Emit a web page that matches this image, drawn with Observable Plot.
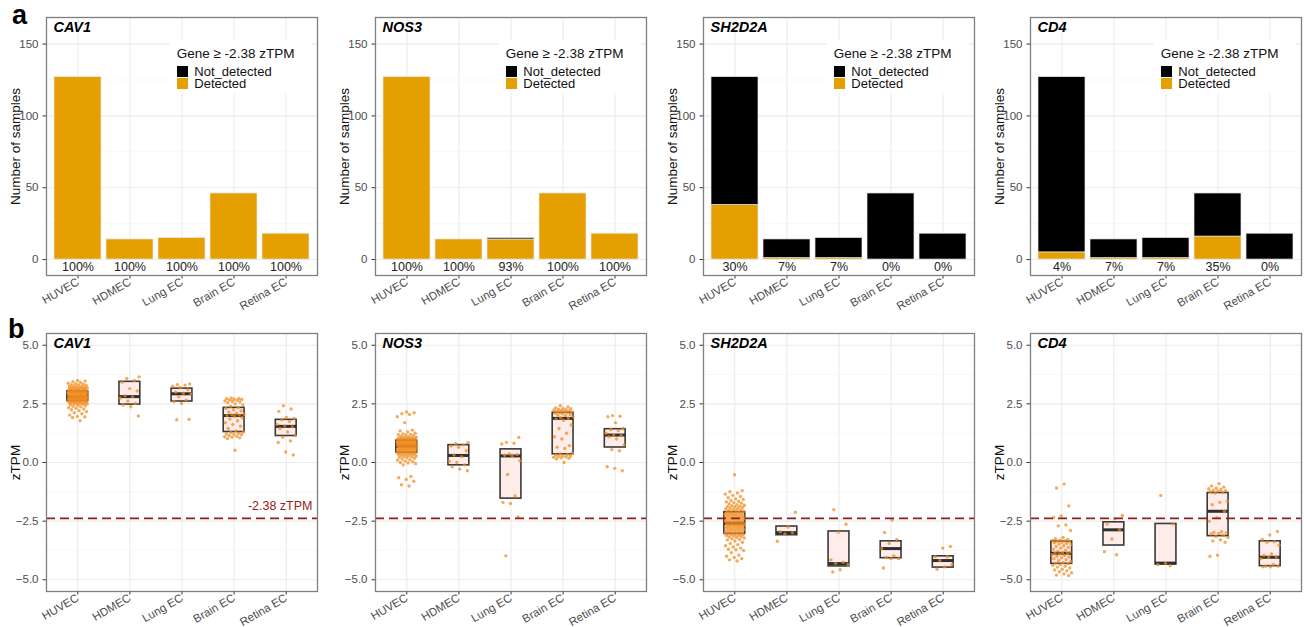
<!DOCTYPE html>
<html>
<head>
<meta charset="utf-8">
<script src="https://cdn.jsdelivr.net/npm/d3@7"></script>
<script src="https://cdn.jsdelivr.net/npm/@observablehq/plot@0.6"></script>
<style>
  html, body { margin: 0; padding: 0; background: #fff; overflow: hidden; }
  #wrap { position: relative; width: 1304px; height: 627px; font-family: "Liberation Sans", Arial, sans-serif; }
  #wrap svg { position: absolute; overflow: visible; }
  .abs { position: absolute; white-space: nowrap; }
  .lg { font-size: 13px; line-height: 12px; color: #111; }
  .lgt { font-size: 13.5px; line-height: 12px; color: #111; }
  .key { position: absolute; width: 11px; height: 11px; }
  .tag { font-weight: bold; font-size: 27px; line-height: 27px; color: #000; }
</style>
</head>
<body>
<div id="wrap"></div>
<script>
// ---------------- data ----------------
const cats = ["HUVEC", "HDMEC", "Lung EC", "Brain EC", "Retina EC"];
const genes = ["CAV1", "NOS3", "SH2D2A", "CD4"];
const totals = [127, 14, 15, 46, 18];
const detected_CAV1 = [127, 14, 15, 46, 18];
const detected_NOS3 = [127, 14, 14, 46, 18];
const detected_SH2D2A = [38, 1, 1, 0, 0];
const detected_CD4 = [5, 1, 1, 16, 0];
const statusLabels = ["Not_detected", "Detected"];
const countTicks = [0, 50, 100, 150];
const countMinor = [25, 75, 125];
const zTicks = [-5, -2.5, 0, 2.5, 5];
const zMinor = [-3.75, -1.25, 1.25, 3.75];
const threshold = -2.38;
const thresholdLabel = "-2.38 zTPM";
const legendTitle = "Gene \u2265 -2.38 zTPM";

// box statistics (Q1, median, Q3) per cell type
const q1_CAV1 = [2.62, 2.47, 2.60, 1.30, 1.13];
const med_CAV1 = [2.80, 2.81, 2.93, 2.00, 1.54];
const q3_CAV1 = [3.03, 3.44, 3.15, 2.33, 1.82];
const q1_NOS3 = [0.42, -0.12, -1.54, 0.35, 0.64];
const med_NOS3 = [0.70, 0.30, 0.28, 1.88, 1.17];
const q3_NOS3 = [0.93, 0.74, 0.56, 2.12, 1.42];
const q1_SH2D2A = [-3.04, -3.10, -4.43, -4.08, -4.48];
const med_SH2D2A = [-2.59, -2.99, -4.31, -3.67, -4.18];
const q3_SH2D2A = [-2.12, -2.73, -2.94, -3.36, -4.00];
const q1_CD4 = [-4.32, -3.54, -4.35, -3.14, -4.42];
const med_CD4 = [-3.87, -2.87, -4.29, -2.08, -4.04];
const q3_CD4 = [-3.37, -2.55, -2.62, -1.30, -3.36];

// sample zTPM values
const CAV1_HUVEC = [1.78,1.92,1.94,1.96,2.02,2.08,2.12,2.17,2.21,2.25,2.28,2.31,2.34,2.37,2.40,2.42,2.44,2.46,2.48,2.50,2.51,2.52,2.53,2.54,2.55,2.56,2.57,2.58,2.59,2.60,2.61,
 2.62,2.63,2.63,2.64,2.65,2.65,2.66,2.67,2.68,2.68,2.69,2.70,2.70,2.71,2.72,2.72,2.73,2.74,2.74,2.75,2.76,2.76,2.77,2.77,2.78,2.78,2.79,2.79,2.79,2.80,2.80,2.80,
 2.81,2.81,2.82,2.83,2.84,2.85,2.86,2.87,2.88,2.89,2.90,2.91,2.92,2.92,2.93,2.94,2.95,2.95,2.96,2.97,2.97,2.98,2.99,2.99,3.00,3.00,3.01,3.01,3.02,3.02,3.03,3.03,
 3.04,3.05,3.06,3.07,3.08,3.09,3.10,3.11,3.12,3.13,3.14,3.15,3.16,3.17,3.18,3.19,3.20,3.21,3.22,3.24,3.25,3.27,3.28,3.30,3.32,3.34,3.36,3.38,3.41,3.44,3.47,3.50];
const CAV1_HDMEC = [1.98,2.38,2.45,2.52,2.62,2.75,2.80,2.85,3.05,3.15,3.42,3.50,3.58,3.65];
const CAV1_Lung = [1.82,1.84,2.52,2.60,2.66,2.80,2.92,2.95,3.00,3.10,3.20,3.25,3.30,3.32,3.35];
const CAV1_Brain = [0.52,1.02,1.05,1.08,1.10,1.12,1.15,1.18,1.20,1.22,1.25,1.28,1.30,1.35,1.45,1.55,1.62,1.70,1.78,1.85,1.92,1.97,
 2.00,2.02,2.04,2.06,2.10,2.15,2.20,2.25,2.30,2.34,2.40,2.45,2.50,2.55,2.58,2.60,2.62,2.65,2.67,2.69,2.70,2.72,2.73,2.75];
const CAV1_Retina = [0.32,0.45,0.85,0.92,1.08,1.15,1.30,1.45,1.52,1.56,1.62,1.75,1.82,1.88,1.92,2.18,2.28,2.42];

const NOS3_HUVEC = [-1.00,-0.95,-0.80,-0.72,-0.65,-0.60,-0.10,-0.05,-0.02,0.00,0.03,0.06,0.10,0.12,0.15,0.18,0.20,0.22,0.24,0.26,0.28,0.30,0.31,0.33,0.34,0.35,0.36,0.38,0.39,0.40,0.41,
 0.42,0.43,0.44,0.45,0.46,0.47,0.48,0.49,0.50,0.51,0.52,0.53,0.54,0.55,0.56,0.57,0.58,0.59,0.60,0.61,0.62,0.63,0.63,0.64,0.65,0.65,0.66,0.67,0.68,0.68,0.69,0.70,
 0.71,0.72,0.73,0.74,0.74,0.75,0.76,0.77,0.77,0.78,0.79,0.80,0.80,0.81,0.82,0.83,0.83,0.84,0.85,0.85,0.86,0.87,0.87,0.88,0.89,0.89,0.90,0.91,0.91,0.92,0.92,0.93,
 0.94,0.95,0.96,0.97,0.98,0.99,1.00,1.01,1.02,1.03,1.04,1.05,1.06,1.07,1.08,1.10,1.12,1.14,1.16,1.18,1.20,1.22,1.25,1.30,1.35,1.38,1.70,1.95,2.05,2.08,2.12,2.15];
const NOS3_HDMEC = [-0.35,-0.28,-0.18,-0.10,0.00,0.05,0.25,0.32,0.50,0.65,0.70,0.75,0.80,0.85];
const NOS3_Lung = [-3.98,-2.32,-1.75,-1.70,-1.43,-0.51,0.07,0.28,0.31,0.34,0.36,0.79,0.82,0.86,1.07];
const NOS3_Brain = [0.00,0.15,0.18,0.20,0.22,0.24,0.26,0.28,0.30,0.32,0.34,0.36,0.40,0.60,0.65,0.72,1.00,1.10,1.25,1.45,1.60,
 1.80,1.85,1.88,1.90,1.95,2.00,2.02,2.05,2.08,2.10,2.12,2.14,2.15,2.17,2.18,2.20,2.22,2.24,2.25,2.27,2.29,2.30,2.33,2.37,2.42];
const NOS3_Retina = [-0.35,-0.25,-0.18,0.50,0.55,0.75,1.00,1.10,1.15,1.18,1.25,1.35,1.40,1.45,1.70,1.95,1.97,2.00];

const SH2D2A_HUVEC = [-4.20,-4.15,-4.10,-4.05,-4.00,-3.95,-3.85,-3.75,-3.72,-3.70,-3.65,-3.60,-3.55,-3.50,-3.45,-3.40,-3.35,-3.30,-3.28,-3.25,-3.22,-3.20,-3.18,-3.15,-3.13,-3.11,-3.10,-3.09,-3.07,-3.06,-3.05,
 -3.04,-3.02,-3.00,-2.98,-2.96,-2.95,-2.93,-2.92,-2.90,-2.88,-2.87,-2.85,-2.83,-2.82,-2.80,-2.78,-2.77,-2.75,-2.74,-2.72,-2.71,-2.70,-2.68,-2.67,-2.66,-2.65,-2.64,-2.63,-2.62,-2.61,-2.60,-2.59,
 -2.58,-2.56,-2.55,-2.53,-2.52,-2.50,-2.49,-2.47,-2.46,-2.44,-2.43,-2.41,-2.40,-2.38,-2.37,-2.35,-2.34,-2.32,-2.31,-2.29,-2.28,-2.26,-2.25,-2.23,-2.22,-2.20,-2.19,-2.17,-2.16,-2.15,-2.13,-2.12,
 -2.10,-2.08,-2.06,-2.04,-2.02,-2.00,-1.98,-1.96,-1.94,-1.92,-1.90,-1.88,-1.86,-1.84,-1.82,-1.80,-1.77,-1.74,-1.71,-1.68,-1.65,-1.62,-1.58,-1.55,-1.50,-1.45,-1.40,-1.35,-1.30,-1.25,-1.20,-0.52];
const SH2D2A_HDMEC = [-2.12,-2.75,-2.95,-3.00,-3.05,-3.36];
const SH2D2A_Lung = [-2.01,-2.63,-2.97,-4.15,-4.25,-4.30,-4.35,-4.57,-4.67];
const SH2D2A_Brain = [-2.45,-2.98,-3.28,-3.45,-3.67,-3.98,-4.05,-4.10,-4.10,-4.50];
const SH2D2A_Retina = [-3.58,-3.65,-4.02,-4.02,-4.18,-4.35,-4.45,-4.55];

const CD4_HUVEC = [-0.92,-1.09,-1.85,-2.28,-2.34,-2.66,-2.70,-2.90,-3.20,-3.25,-3.28,-3.30,-3.32,-3.35,-3.36,-3.38,-3.40,-3.42,-3.45,-3.48,
 -3.50,-3.55,-3.58,-3.62,-3.65,-3.70,-3.74,-3.78,-3.82,-3.85,-3.87,-3.88,-3.90,-3.93,-3.96,-4.00,-4.03,-4.06,-4.10,-4.14,
 -4.18,-4.22,-4.26,-4.30,-4.32,-4.35,-4.38,-4.42,-4.46,-4.50,-4.55,-4.58,-4.62,-4.66,-4.70,-4.75,-4.80,-4.82];
const CD4_HDMEC = [-2.26,-2.40,-2.62,-2.87,-3.26,-3.80,-3.93];
const CD4_Lung = [-1.41,-2.62,-4.30,-4.35,-4.40];
const CD4_Brain = [-0.90,-1.00,-1.05,-1.10,-1.12,-1.15,-1.18,-1.20,-1.22,-1.25,-1.28,-1.30,-1.65,-1.70,-1.80,-2.08,-2.35,-2.50,
 -2.95,-2.98,-3.00,-3.02,-3.05,-3.10,-3.15,-3.20,-3.30,-3.35,-3.40,-3.95,-4.00];
const CD4_Retina = [-2.94,-3.09,-3.28,-3.38,-3.40,-3.53,-3.90,-3.96,-4.02,-4.05,-4.10,-4.35,-4.42,-4.42,-4.45,-4.45];

// ---------------- assembly ----------------
const detectedByGene = {CAV1: detected_CAV1, NOS3: detected_NOS3, SH2D2A: detected_SH2D2A, CD4: detected_CD4};
const boxByGene = {
  CAV1: [q1_CAV1, med_CAV1, q3_CAV1], NOS3: [q1_NOS3, med_NOS3, q3_NOS3],
  SH2D2A: [q1_SH2D2A, med_SH2D2A, q3_SH2D2A], CD4: [q1_CD4, med_CD4, q3_CD4]
};
const ptsByGene = {
  CAV1: [CAV1_HUVEC, CAV1_HDMEC, CAV1_Lung, CAV1_Brain, CAV1_Retina],
  NOS3: [NOS3_HUVEC, NOS3_HDMEC, NOS3_Lung, NOS3_Brain, NOS3_Retina],
  SH2D2A: [SH2D2A_HUVEC, SH2D2A_HDMEC, SH2D2A_Lung, SH2D2A_Brain, SH2D2A_Retina],
  CD4: [CD4_HUVEC, CD4_HDMEC, CD4_Lung, CD4_Brain, CD4_Retina]
};

const ORANGE = "#E69F00";
const PT = "#F08A1C";
const RED = "#8E1F1F";
const FONT = "'Liberation Sans', Arial, sans-serif";
const frameLefts = [46, 375, 703, 1030];
const frameW = 271;
const mL = 46, mR = 3;
const wrap = document.getElementById("wrap");

// deterministic jitter (display only)
const jit = (i, k) => ((((i + 1) * 0.6180339887 + k * 0.31) % 1) - 0.5) * 0.38;

function place(svg, left, top) {
  svg.style.left = left + "px";
  svg.style.top = top + "px";
  wrap.appendChild(svg);
}
function div(cls, html, css) {
  const d = document.createElement("div");
  d.className = cls;
  d.innerHTML = html;
  Object.assign(d.style, css);
  wrap.appendChild(d);
  return d;
}

genes.forEach((g, gi) => {
  const fl = frameLefts[gi];
  const det = detectedByGene[g];
  const rows = [];
  cats.forEach((c, k) => {
    rows.push({cat: c, status: "Detected", n: det[k]});
    rows.push({cat: c, status: "Not_detected", n: totals[k] - det[k]});
  });
  const barRows = rows.filter(d => d.n > 0);
  const pctRows = cats.map((c, k) => ({cat: c, label: Math.round(100 * det[k] / totals[k]) + "%"}));

  const top = Plot.plot({
    width: mL + frameW + mR, height: 310,
    marginTop: 17, marginBottom: 35, marginLeft: mL, marginRight: mR,
    style: {fontFamily: FONT, fontSize: "11.5px", background: "transparent", overflow: "visible"},
    x: {type: "band", domain: cats, paddingInner: 0.1, paddingOuter: 0.15},
    y: {domain: [-11.1, 168.5]},
    color: {domain: statusLabels, range: ["#000000", ORANGE]},
    marks: [
      Plot.gridY(countMinor, {stroke: "#f3f3f3", strokeOpacity: 1, strokeWidth: 0.6}),
      Plot.gridY(countTicks, {stroke: "#ebebeb", strokeOpacity: 1, strokeWidth: 1.1}),
      Plot.gridX(cats, {stroke: "#ebebeb", strokeOpacity: 1, strokeWidth: 1.1}),
      Plot.barY(barRows, {x: "cat", y: "n", fill: "status", stroke: "#e8e8e8", strokeWidth: 0.7}),
      Plot.text(pctRows, {x: "cat", y: () => -5, text: "label", fontSize: 12.5, fill: "#222"}),
      Plot.text([g], {frameAnchor: "top-left", dx: 7, dy: 4, lineAnchor: "top", fontSize: 14.5, fontWeight: "bold", fontStyle: "italic", fill: "#000"}),
      Plot.text(["Number of samples"], {frameAnchor: "left", dx: -31, rotate: -90, textAnchor: "middle", fontSize: 13.5, fill: "#111"}),
      Plot.axisY(countTicks, {tickSize: 3.5, tickPadding: 4.5, label: null, stroke: "#333", fill: "#4d4d4d", fontSize: 11.5}),
      Plot.axisX({tickSize: 3.5, tickPadding: 2, tickRotate: -30, label: null, stroke: "#333", fill: "#4d4d4d", fontSize: 11.5}),
      Plot.frame({stroke: "#7f7f7f", strokeWidth: 1.3})
    ]
  });
  place(top, fl - mL, 0);

  // legend (inside panel, white background)
  div("abs", "", {left: (fl + 124) + "px", top: "41px", width: "142px", height: "52px", background: "#fff"});
  div("abs lgt", legendTitle, {left: (fl + 130.7) + "px", top: "48px"});
  div("key", "", {left: (fl + 130.7) + "px", top: "66px", background: "#000"});
  div("key", "", {left: (fl + 130.7) + "px", top: "78px", background: ORANGE});
  div("abs lg", statusLabels[0], {left: (fl + 148.3) + "px", top: "65.5px"});
  div("abs lg", statusLabels[1], {left: (fl + 148.3) + "px", top: "78px"});

  // ---- bottom panel ----
  const [q1, md, q3] = boxByGene[g];
  const boxRows = cats.map((c, k) => ({i: k, q1: q1[k], med: md[k], q3: q3[k]}));
  const ptRows = [];
  ptsByGene[g].forEach((arr, k) => arr.forEach((v, i) => ptRows.push({xi: k + jit(i, k), v})));
  const idx = cats.map((c, k) => k);

  const bottomMarks = [
    Plot.gridY(zMinor, {stroke: "#f3f3f3", strokeOpacity: 1, strokeWidth: 0.6}),
    Plot.gridY(zTicks, {stroke: "#ebebeb", strokeOpacity: 1, strokeWidth: 1.1}),
    Plot.gridX(idx, {stroke: "#ebebeb", strokeOpacity: 1, strokeWidth: 1.1}),
    Plot.rect(boxRows, {x1: d => d.i - 0.2, x2: d => d.i + 0.2, y1: "q1", y2: "q3", fill: "#FDECEA", stroke: "#3a3a3a", strokeWidth: 1.6}),
    Plot.ruleY(boxRows, {y: "med", x1: d => d.i - 0.2, x2: d => d.i + 0.2, stroke: "#2e2e2e", strokeWidth: 3}),
    Plot.dot(ptRows, {x: "xi", y: "v", r: 1.7, fill: PT, fillOpacity: 0.72, stroke: "none"}),
    Plot.ruleY([threshold], {stroke: RED, strokeWidth: 1.7, strokeDasharray: "9,5"}),
    Plot.text([g], {frameAnchor: "top-left", dx: 7, dy: 4, lineAnchor: "top", fontSize: 14.5, fontWeight: "bold", fontStyle: "italic", fill: "#000"}),
    Plot.text(["zTPM"], {frameAnchor: "left", dx: -31, rotate: -90, textAnchor: "middle", fontSize: 13.5, fill: "#111"}),
    Plot.axisY(zTicks, {tickSize: 3.5, tickPadding: 4.5, label: null, tickFormat: d3.format(".1f"), stroke: "#333", fill: "#4d4d4d", fontSize: 11.5}),
    Plot.axisX(idx, {tickSize: 3.5, tickPadding: 2, tickRotate: -30, label: null, tickFormat: i => cats[i], stroke: "#333", fill: "#4d4d4d", fontSize: 11.5}),
    Plot.frame({stroke: "#7f7f7f", strokeWidth: 1.3})
  ];
  if (gi === 0) {
    bottomMarks.push(Plot.text([thresholdLabel], {frameAnchor: "right", y: () => threshold, dx: -5, dy: -12, textAnchor: "end", fontSize: 12.5, fill: "#9B2020"}));
  }
  const bottom = Plot.plot({
    width: mL + frameW + mR, height: 317,
    marginTop: 23, marginBottom: 36, marginLeft: mL, marginRight: mR,
    style: {fontFamily: FONT, fontSize: "11.5px", background: "transparent", overflow: "visible"},
    x: {domain: [-0.6, 4.6]},
    y: {domain: [-5.5, 5.5]},
    marks: bottomMarks
  });
  place(bottom, fl - mL, 310);
});

div("abs tag", "a", {left: "12px", top: "2px"});
div("abs tag", "b", {left: "8px", top: "316px"});
</script>
</body>
</html>
